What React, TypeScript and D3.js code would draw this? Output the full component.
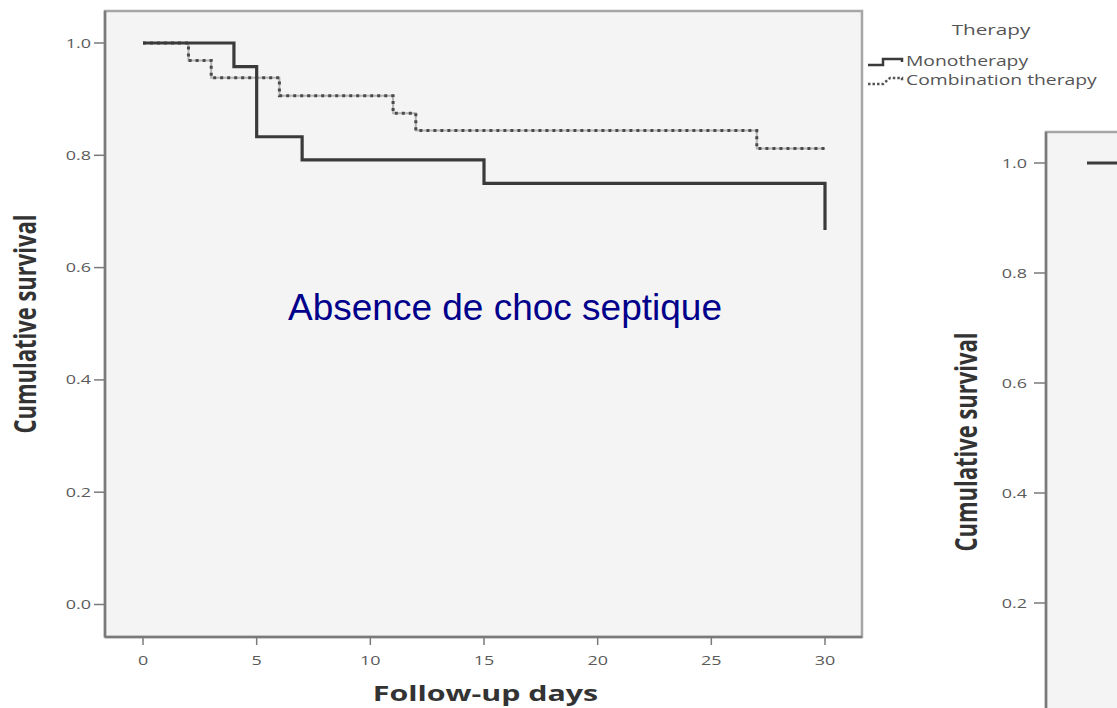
import React from "react";
import * as d3 from "d3";

// ---------- data ----------
const monoTimes = [0, 4, 5, 7, 15, 30];
const monoSurv = [1, 0.958, 0.833, 0.792, 0.75, 0.667];
const comboTimes = [0, 2, 3, 6, 11, 12, 27, 30];
const comboSurv = [1, 0.969, 0.938, 0.906, 0.875, 0.844, 0.812, 0.812];
const xTicks = [0, 5, 10, 15, 20, 25, 30];
const yTicks = [0, 0.2, 0.4, 0.6, 0.8, 1.0];
const rightTimes = [0, 3];
const rightSurv = [1, 1];
const legendTitle = "Therapy";
const legendItems = ["Monotherapy", "Combination therapy"];
const overlayText = "Absence de choc septique";
const xTitle = "Follow-up days";
const yTitle = "Cumulative survival";

const S = 1.38; // horizontal stretch of the source image
const FONT = "'Open Sans', sans-serif";

export default function App() {
  const W = 1117, H = 708;
  // left panel
  const L = { x0: 105, x1: 862, y0: 11, y1: 637 };
  const x = d3.scaleLinear().domain([0, 30]).range([143, 825]);
  const y = d3.scaleLinear().domain([0, 1]).range([604.5, 43]);
  // right panel (partial)
  const R = { x0: 1046, y0: 132 };
  const xr = d3.scaleLinear().domain([0, 30]).range([1087, 1087 + 668]);
  const yr = d3.scaleLinear().domain([0, 1]).range([713, 163]);

  const line = (xs: any, ys: any) =>
    d3.line<number>().x((_, i) => xs(_)).y((_, i) => 0).curve(d3.curveStepAfter);

  const mkPath = (times: number[], surv: number[], xs: any, ys: any) =>
    d3
      .line<[number, number]>()
      .x((d) => xs(d[0]))
      .y((d) => ys(d[1]))
      .curve(d3.curveStepAfter)(times.map((t, i) => [t, surv[i]] as [number, number])) || "";

  const monoPath = mkPath(monoTimes, monoSurv, x, y);
  const comboPath = mkPath(comboTimes, comboSurv, x, y);
  const rightPath = mkPath(rightTimes, rightSurv, xr, yr);
  void line;

  const fmt = d3.format(".1f");
  const tickColor = "#5a5a5a";
  const axisColor = "#7a7a7a";

  return (
    <div style={{ position: "absolute", left: 0, top: 0 }}>
      <svg width={W} height={H} style={{ display: "block", background: "#fff" }}>
        <defs>
          <clipPath id="leftClip">
            <rect x={L.x0} y={L.y0} width={L.x1 - L.x0} height={L.y1 - L.y0} />
          </clipPath>
          <clipPath id="rightClip">
            <rect x={R.x0} y={R.y0} width={W - R.x0} height={H - R.y0} />
          </clipPath>
        </defs>

        {/* ---------- left panel ---------- */}
        <rect x={L.x0} y={L.y0} width={L.x1 - L.x0} height={L.y1 - L.y0} fill="#f4f4f4" stroke="#a6a6a6" strokeWidth={2.5} />
        <line x1={L.x0} x2={L.x0} y1={L.y0} y2={L.y1} stroke={axisColor} strokeWidth={2.5} />
        <line x1={L.x0} x2={L.x1} y1={L.y1} y2={L.y1} stroke={axisColor} strokeWidth={2.5} />

        {yTicks.map((v) => (
          <g key={"ly" + v}>
            <line x1={L.x0 - 11} x2={L.x0} y1={y(v)} y2={y(v)} stroke={axisColor} strokeWidth={1.5} />
            <text
              transform={`translate(${L.x0 - 14},${y(v)}) scale(${S},1)`}
              dy="0.35em"
              textAnchor="end"
              fontFamily={FONT}
              fontSize={13}
              fill={tickColor}
            >
              {fmt(v)}
            </text>
          </g>
        ))}
        {xTicks.map((v) => (
          <g key={"lx" + v}>
            <line x1={x(v)} x2={x(v)} y1={L.y1} y2={L.y1 + 8} stroke={axisColor} strokeWidth={1.5} />
            <text
              transform={`translate(${x(v)},${L.y1 + 28}) scale(${S},1)`}
              textAnchor="middle"
              fontFamily={FONT}
              fontSize={13}
              fill={tickColor}
            >
              {v}
            </text>
          </g>
        ))}

        <g clipPath="url(#leftClip)">
          <path d={comboPath} fill="none" stroke="#b5b5b5" strokeWidth={2} />
          <path d={comboPath} fill="none" stroke="#4a4a4a" strokeWidth={3} strokeDasharray="3,4" />
          <path d={monoPath} fill="none" stroke="#3a3a3a" strokeWidth={3.2} />
        </g>

        <text
          transform={`translate(${(L.x0 + L.x1) / 2 + 2},701) scale(${S},1)`}
          textAnchor="middle"
          fontFamily={FONT}
          fontWeight={700}
          fontSize={22}
          fill="#333"
        >
          {xTitle}
        </text>
        <text
          transform={`translate(25,${(L.y0 + L.y1) / 2}) scale(${S},1) rotate(-90)`}
          textAnchor="middle"
          dy="0.35em"
          fontFamily={FONT}
          fontWeight={700}
          fontSize={22}
          fill="#333"
        >
          {yTitle}
        </text>

        <text
          x={505}
          y={320}
          textAnchor="middle"
          fontFamily="'Liberation Sans', Arial, sans-serif"
          fontSize={37}
          fill="#00008B"
        >
          {overlayText}
        </text>

        {/* ---------- legend ---------- */}
        <text
          transform={`translate(991,35) scale(${S},1)`}
          textAnchor="middle"
          fontFamily={FONT}
          fontSize={15}
          fill="#555"
        >
          {legendTitle}
        </text>
        <path d="M868,65 H883 V59 H902 V62" fill="none" stroke="#3a3a3a" strokeWidth={2.5} />
        <path d="M868,84 H883 L890,78 H902 V81" fill="none" stroke="#555" strokeWidth={2.5} strokeDasharray="2.5,2" />
        {legendItems.map((t, i) => (
          <text
            key={t}
            transform={`translate(906,${66 + i * 19}) scale(${S},1)`}
            fontFamily={FONT}
            fontSize={14}
            fill="#555"
          >
            {t}
          </text>
        ))}

        {/* ---------- right panel (partial) ---------- */}
        <rect x={R.x0} y={R.y0} width={300} height={700} fill="#f4f4f4" stroke="#a6a6a6" strokeWidth={2.5} />
        <line x1={R.x0} x2={R.x0} y1={R.y0} y2={H + 10} stroke={axisColor} strokeWidth={2.5} />
        {yTicks.map((v) => (
          <g key={"ry" + v}>
            <line x1={R.x0 - 12} x2={R.x0} y1={yr(v)} y2={yr(v)} stroke={axisColor} strokeWidth={1.5} />
            <text
              transform={`translate(${R.x0 - 19},${yr(v)}) scale(${S},1)`}
              dy="0.35em"
              textAnchor="end"
              fontFamily={FONT}
              fontSize={13}
              fill={tickColor}
            >
              {fmt(v)}
            </text>
          </g>
        ))}
        <g clipPath="url(#rightClip)">
          <path d={rightPath} fill="none" stroke="#3a3a3a" strokeWidth={3.2} />
        </g>
        <text
          transform={`translate(966,442) scale(${S},1) rotate(-90)`}
          textAnchor="middle"
          dy="0.35em"
          fontFamily={FONT}
          fontWeight={700}
          fontSize={22}
          fill="#333"
        >
          {yTitle}
        </text>
      </svg>
    </div>
  );
}
